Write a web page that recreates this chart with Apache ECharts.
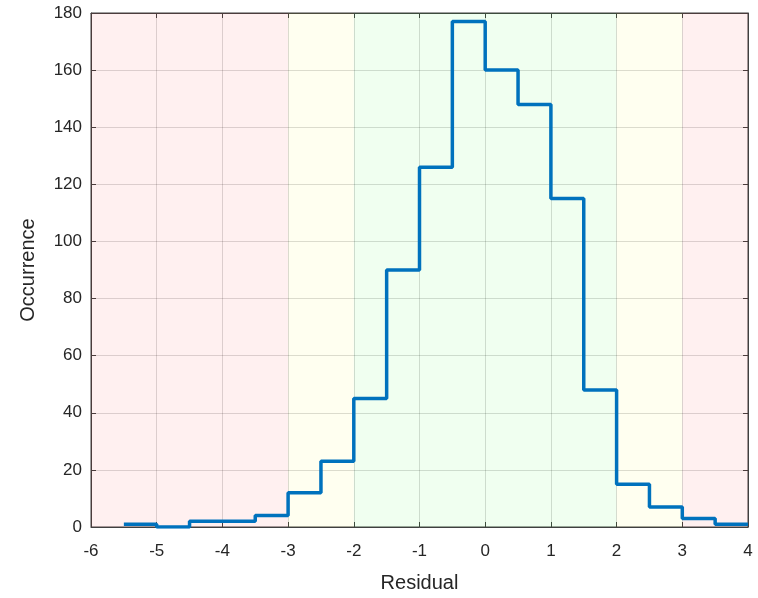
<!DOCTYPE html>
<html>
<head>
<meta charset="utf-8">
<script src="https://cdn.jsdelivr.net/npm/echarts@6/dist/echarts.min.js"></script>
<style>
  html, body { margin: 0; padding: 0; background: #fff; }
  #main { width: 758px; height: 598px; }
</style>
</head>
<body>
<div id="main"></div>
<script>
  // bin left edges (width 0.5) and counts
  const binStarts = [-5.5, -5, -4.5, -4, -3.5, -3, -2.5, -2, -1.5, -1, -0.5, 0, 0.5, 1, 1.5, 2, 2.5, 3, 3.5];
  const counts    = [1, 0, 2, 2, 4, 12, 23, 45, 90, 126, 177, 160, 148, 115, 48, 15, 7, 3, 1];
  const binWidth = 0.5;

  // background zones: [from, to, colour]
  const zones = [
    [-6, -3, 'rgba(255,0,0,0.06)'],
    [-3, -2, 'rgba(255,255,0,0.06)'],
    [-2, 2, 'rgba(0,255,0,0.06)'],
    [2, 3, 'rgba(255,255,0,0.06)'],
    [3, 4, 'rgba(255,0,0,0.06)']
  ];

  const stepData = binStarts.map((x, i) => [x, counts[i]]);
  stepData.push([binStarts[binStarts.length - 1] + binWidth, counts[counts.length - 1]]);

  const axisColor = '#404040';
  const fontFamily = 'Liberation Sans, Arial, sans-serif';
  const labelStyle = { color: '#262626', fontSize: 17, fontFamily: fontFamily };
  const nameStyle = { color: '#262626', fontSize: 20, fontFamily: fontFamily };
  const gridLine = { show: true, lineStyle: { color: 'rgba(0,0,0,0.15)' } };
  const tick = { show: true, inside: true, length: 5, lineStyle: { color: axisColor } };

  const myChart = echarts.init(document.getElementById('main'));
  const option = {
    animation: false,
    grid: {
      left: 91, right: 10, top: 13, bottom: 69,
      show: true, borderColor: axisColor, borderWidth: 1, backgroundColor: 'transparent'
    },
    xAxis: [
      {
        type: 'value', min: -6, max: 4, interval: 1,
        name: 'Residual', nameLocation: 'middle', nameGap: 46, nameTextStyle: nameStyle,
        axisLine: { onZero: false, lineStyle: { color: axisColor } },
        axisTick: tick,
        axisLabel: Object.assign({ margin: 16 }, labelStyle),
        splitLine: gridLine
      },
      {
        type: 'value', min: -6, max: 4, interval: 1, position: 'top',
        axisLine: { onZero: false, lineStyle: { color: axisColor } },
        axisTick: tick,
        axisLabel: { show: false },
        splitLine: { show: false }
      }
    ],
    yAxis: [
      {
        type: 'value', min: 0, max: 180, interval: 20,
        name: 'Occurrence', nameLocation: 'middle', nameGap: 53, nameTextStyle: nameStyle,
        axisLine: { show: true, onZero: false, lineStyle: { color: axisColor } },
        axisTick: tick,
        axisLabel: Object.assign({ margin: 9 }, labelStyle),
        splitLine: gridLine
      },
      {
        type: 'value', min: 0, max: 180, interval: 20, position: 'right',
        axisLine: { show: true, onZero: false, lineStyle: { color: axisColor } },
        axisTick: tick,
        axisLabel: { show: false },
        splitLine: { show: false }
      }
    ],
    series: [
      {
        type: 'line',
        step: 'end',
        data: stepData,
        symbol: 'none',
        lineStyle: { color: '#0072BD', width: 3.5 },
        markArea: {
          silent: true,
          data: zones.map(z => [
            { xAxis: z[0], yAxis: 0, itemStyle: { color: z[2] } },
            { xAxis: z[1], yAxis: 180 }
          ])
        }
      }
    ]
  };
  myChart.setOption(option);
</script>
</body>
</html>
